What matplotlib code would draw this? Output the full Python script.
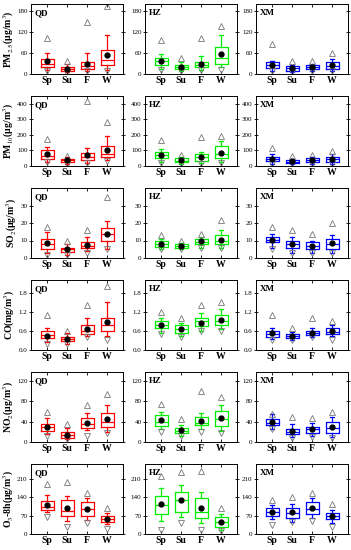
import matplotlib
matplotlib.use("Agg")
import matplotlib.pyplot as plt

# stats per season (Sp, Su, F, W): [whis_lo, q1, median, q3, whis_hi, mean, min, max]
SEASONS = ["Sp", "Su", "F", "W"]
CITIES = ["QD", "HZ", "XM"]
COLORS = {"QD": "#ff0000", "HZ": "#00ee00", "XM": "#0000ff"}

PM25_QD = [[12, 20, 29, 43, 60, 36, 10, 102], [5, 10, 15, 20, 28, 15, 3, 38],
           [8, 15, 22, 35, 60, 28, 8, 148], [12, 25, 40, 70, 112, 53, 10, 195]]
PM25_HZ = [[15, 25, 37, 47, 57, 38, 12, 97], [8, 15, 20, 27, 33, 21, 8, 45],
           [12, 20, 27, 35, 52, 30, 12, 103], [20, 30, 47, 77, 112, 57, 12, 138]]
PM25_XM = [[10, 18, 25, 33, 38, 26, 8, 85], [5, 10, 17, 22, 25, 17, 5, 37],
           [10, 15, 20, 25, 30, 20, 8, 37], [8, 15, 23, 35, 42, 26, 8, 60]]

PM10_QD = [[25, 45, 65, 105, 125, 75, 25, 175], [15, 25, 38, 45, 55, 38, 15, 65],
           [20, 40, 55, 85, 115, 70, 20, 415], [40, 55, 80, 130, 190, 100, 30, 285]]
PM10_HZ = [[25, 50, 70, 90, 110, 70, 20, 165], [15, 25, 35, 50, 60, 37, 15, 70],
           [20, 35, 55, 75, 90, 60, 15, 185], [25, 50, 75, 130, 160, 85, 20, 195]]
PM10_XM = [[15, 30, 45, 60, 75, 45, 10, 115], [10, 20, 28, 38, 45, 30, 10, 65],
           [15, 25, 38, 50, 60, 38, 12, 70], [15, 25, 42, 60, 75, 45, 15, 95]]

SO2_QD = [[3, 5, 8, 11, 15, 8.5, 1.5, 18], [2, 3.5, 5, 6, 8, 5, 2, 10],
          [4, 6, 7, 9, 12, 7.5, 3, 16], [5, 10, 14, 17, 21, 14, 5, 35]]
SO2_HZ = [[5, 6.5, 8, 10, 11, 8, 5, 13], [5, 6, 7, 8, 8.5, 7, 5, 10],
          [6, 8, 9, 11, 12, 9.5, 6, 14], [6, 8, 10, 13, 16, 10.5, 6, 22]]
SO2_XM = [[6, 9, 10.5, 12, 14, 10.5, 5, 18], [3, 6, 8, 10, 12, 8, 3, 16],
          [3, 5, 7, 9, 10, 7, 3, 14], [3, 5, 8, 11, 13, 8.5, 3, 20]]

CO_QD = [[0.25, 0.38, 0.48, 0.6, 0.7, 0.45, 0.2, 1.1], [0.2, 0.28, 0.35, 0.4, 0.55, 0.35, 0.2, 0.6],
         [0.45, 0.5, 0.6, 0.8, 1.0, 0.65, 0.4, 1.4], [0.45, 0.6, 0.8, 1.0, 1.5, 0.88, 0.3, 2.0]]
CO_HZ = [[0.55, 0.7, 0.78, 0.9, 1.0, 0.78, 0.5, 1.2], [0.45, 0.55, 0.65, 0.78, 0.85, 0.65, 0.4, 1.0],
         [0.6, 0.75, 0.9, 1.0, 1.15, 0.85, 0.6, 1.4], [0.65, 0.78, 0.9, 1.1, 1.3, 0.95, 0.6, 1.5]]
CO_XM = [[0.35, 0.4, 0.5, 0.6, 0.68, 0.52, 0.3, 1.1], [0.3, 0.38, 0.45, 0.5, 0.58, 0.45, 0.3, 0.7],
         [0.42, 0.48, 0.55, 0.6, 0.68, 0.55, 0.4, 1.0], [0.45, 0.5, 0.58, 0.68, 0.8, 0.6, 0.3, 0.9]]

NO2_QD = [[15, 22, 30, 36, 48, 30, 12, 60], [5, 8, 13, 20, 27, 14, 5, 35],
          [23, 27, 35, 48, 57, 38, 12, 72], [20, 30, 40, 57, 73, 45, 17, 95]]
NO2_HZ = [[25, 32, 40, 53, 60, 43, 20, 75], [12, 18, 22, 28, 33, 24, 12, 45],
          [25, 33, 38, 50, 58, 42, 20, 100], [22, 32, 46, 62, 72, 48, 17, 88]]
NO2_XM = [[25, 33, 38, 45, 55, 40, 25, 55], [10, 15, 20, 25, 35, 22, 8, 50],
          [12, 18, 25, 30, 38, 25, 10, 47], [10, 18, 27, 40, 50, 30, 8, 60]]

O3_QD = [[82, 92, 102, 125, 148, 110, 65, 190], [48, 68, 88, 130, 143, 97, 25, 195],
         [52, 70, 95, 120, 135, 95, 40, 155], [38, 45, 55, 70, 80, 58, 20, 100]]
O3_HZ = [[50, 75, 108, 145, 175, 112, 15, 220], [65, 85, 128, 160, 185, 130, 40, 235],
         [40, 60, 85, 135, 160, 98, 15, 240], [15, 25, 45, 65, 75, 45, 10, 100]]
O3_XM = [[55, 70, 85, 100, 110, 82, 35, 130], [45, 60, 80, 100, 115, 82, 45, 140],
         [60, 75, 95, 120, 135, 100, 50, 155], [40, 55, 68, 80, 90, 68, 28, 115]]

ROWS = [
    ("PM$_{2.5}$(μg/m$^3$)", [PM25_QD, PM25_HZ, PM25_XM], 200, [0, 60, 120, 180], "{:g}"),
    ("PM$_{10}$(μg/m$^3$)", [PM10_QD, PM10_HZ, PM10_XM], 450, [0, 100, 200, 300, 400], "{:g}"),
    ("SO$_2$(μg/m$^3$)", [SO2_QD, SO2_HZ, SO2_XM], 40, [0, 10, 20, 30], "{:g}"),
    ("CO(mg/m$^3$)", [CO_QD, CO_HZ, CO_XM], 2.2, [0.0, 0.6, 1.2, 1.8], "{:.1f}"),
    ("NO$_2$(μg/m$^3$)", [NO2_QD, NO2_HZ, NO2_XM], 138, [0, 40, 80, 120], "{:g}"),
    ("O$_3$-8h(μg/m$^3$)", [O3_QD, O3_HZ, O3_XM], 265, [0, 70, 140, 210], "{:g}"),
]

plt.rcParams["font.family"] = ["Liberation Serif", "DejaVu Serif"]
plt.rcParams["mathtext.fontset"] = "stix"

W, H = 351, 550
fig = plt.figure(figsize=(W / 100, H / 100), dpi=100)

col_left = [31, 145, 256]
ax_w, ax_h = 92, 70
row_top = [4, 96, 188, 280, 372, 464]
pos = [1, 2, 3, 4]

for r, (ylabel, datasets, ymax, yticks, fmt) in enumerate(ROWS):
    for c, city in enumerate(CITIES):
        ax = fig.add_axes([col_left[c] / W, 1 - (row_top[r] + ax_h) / H, ax_w / W, ax_h / H])
        color = COLORS[city]
        data = datasets[c]
        stats = [
            {"whislo": d[0], "q1": d[1], "med": d[2], "q3": d[3], "whishi": d[4], "fliers": []}
            for d in data
        ]
        ax.bxp(stats, positions=pos, widths=0.65, showfliers=False,
               boxprops=dict(color=color, linewidth=0.9),
               medianprops=dict(color=color, linewidth=0.9),
               whiskerprops=dict(color=color, linewidth=0.9),
               capprops=dict(color=color, linewidth=0.9), capwidths=0.2)
        ax.plot(pos, [d[5] for d in data], "o", color="black", markersize=3.5, zorder=5)
        ax.plot(pos, [d[7] for d in data], "^", mfc="none", mec="#777777", mew=0.6,
                markersize=4.5, linestyle="none")
        ax.plot(pos, [d[6] for d in data], "v", mfc="none", mec="#777777", mew=0.6,
                markersize=4.5, linestyle="none")

        ax.set_xlim(0.2, 4.8)
        ax.set_ylim(0, ymax)
        ax.set_xticks(pos)
        ax.set_xticklabels(SEASONS, fontsize=7, fontweight="bold")
        ax.set_yticks(yticks)
        ax.set_yticklabels([fmt.format(t) for t in yticks], fontsize=5)
        ax.tick_params(axis="x", direction="in", top=True, length=2.5, width=0.6, pad=1.5)
        ax.tick_params(axis="y", direction="inout", right=True, length=3, width=0.6, pad=1)
        for s in ax.spines.values():
            s.set_linewidth(0.7)
        ax.text(0.04, 0.93, city, transform=ax.transAxes, fontsize=6.5,
                fontweight="bold", va="top", ha="left")
        if c == 0:
            ax.set_ylabel(ylabel, fontsize=7, fontweight="bold", labelpad=1)

fig.savefig("out.png", dpi=100)
